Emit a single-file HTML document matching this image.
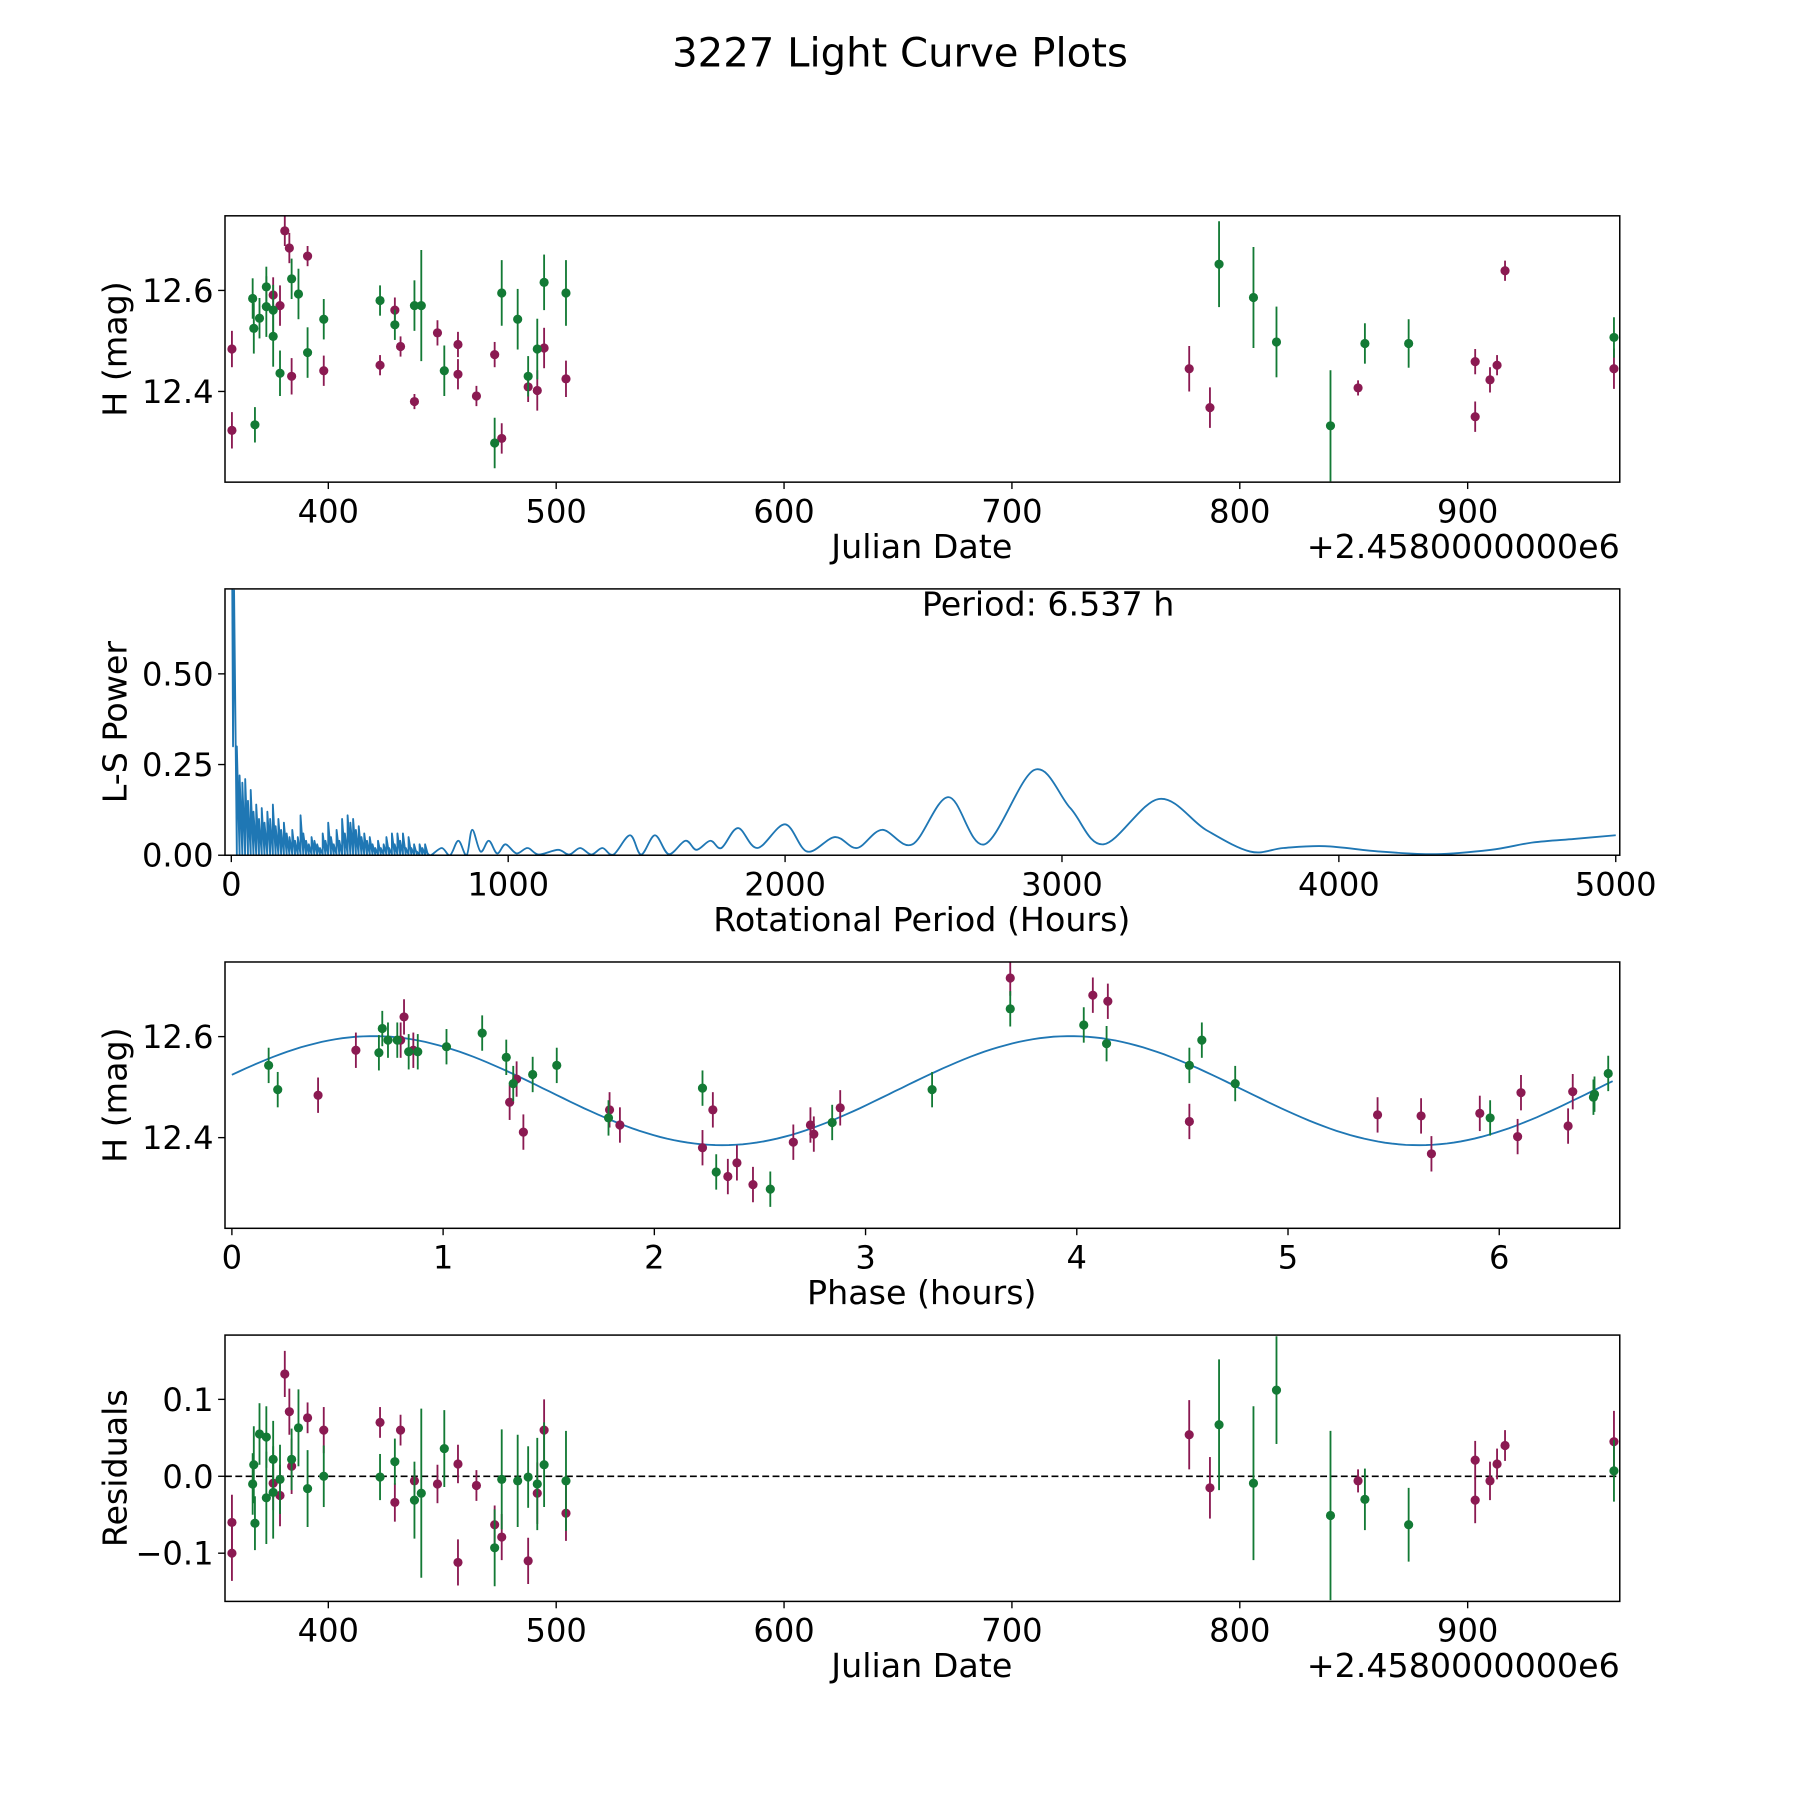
<!DOCTYPE html>
<html><head><meta charset="utf-8"><style>
html,body{margin:0;padding:0;background:#fff;}
svg{display:block;}
text{font-family:"DejaVu Sans","Liberation Sans",sans-serif;fill:#000;}
</style></head>
<body>
<svg id="fig" width="1800" height="1800" viewBox="0 0 1568 1568" xmlns="http://www.w3.org/2000/svg">
<rect width="1568" height="1568" fill="#fff"/>
<text x="784" y="58" font-size="35" text-anchor="middle">3227 Light Curve Plots</text>
</svg>
<script>
// ---- Panel 1 / 4 data (Julian date offsets) ----
const maroonJD=[357.7,357.7,375.8,378.8,380.9,382.9,383.9,390.9,398.0,422.7,429.2,431.7,437.8,447.9,456.9,456.9,465.0,473.0,476.1,487.7,491.7,494.7,504.3,777.8,786.9,851.9,903.3,903.3,909.8,912.9,916.4,964.2];
const maroonMag=[12.484,12.323,12.591,12.570,12.718,12.684,12.430,12.668,12.441,12.452,12.561,12.489,12.380,12.516,12.493,12.434,12.391,12.473,12.307,12.409,12.402,12.486,12.425,12.445,12.368,12.407,12.459,12.350,12.423,12.452,12.639,12.445];
const maroonErr=[0.036,0.036,0.035,0.04,0.03,0.03,0.036,0.02,0.03,0.02,0.025,0.02,0.015,0.025,0.025,0.03,0.02,0.025,0.03,0.03,0.04,0.04,0.036,0.045,0.04,0.015,0.025,0.03,0.025,0.02,0.02,0.04];
const maroonRes=[-0.060,-0.100,-0.009,-0.025,0.133,0.084,0.013,0.076,0.060,0.070,-0.034,0.060,-0.006,-0.010,0.016,-0.112,-0.012,-0.063,-0.079,-0.110,-0.022,0.060,-0.048,0.054,-0.015,-0.006,0.021,-0.031,-0.006,0.016,0.040,0.045];
const greenJD=[366.8,367.3,367.8,369.8,372.8,372.8,375.8,375.8,378.8,383.9,386.9,390.9,398.0,422.7,429.2,437.8,440.8,450.9,473.0,476.1,483.1,487.7,491.7,494.7,504.3,790.9,806.0,816.1,839.8,854.9,874.1,964.2];
const greenMag=[12.584,12.525,12.334,12.545,12.607,12.568,12.509,12.561,12.436,12.623,12.593,12.477,12.543,12.580,12.532,12.570,12.570,12.441,12.298,12.595,12.543,12.430,12.484,12.616,12.595,12.652,12.586,12.498,12.332,12.495,12.495,12.507];
const greenErr=[0.04,0.05,0.035,0.04,0.04,0.06,0.06,0.05,0.045,0.04,0.05,0.05,0.04,0.03,0.03,0.05,0.11,0.05,0.05,0.065,0.06,0.04,0.06,0.055,0.065,0.085,0.1,0.07,0.11,0.04,0.048,0.04];
const greenRes=[-0.010,0.015,-0.061,0.055,0.051,-0.028,-0.021,0.022,-0.004,0.022,0.063,-0.016,0.0,-0.001,0.019,-0.031,-0.022,0.036,-0.093,-0.004,-0.006,-0.001,-0.010,0.015,-0.006,0.067,-0.009,0.112,-0.051,-0.030,-0.063,0.007];
// ---- Panel 3 data (phase) ----
const maroonPhase=[0.408,0.587,0.799,0.815,0.859,1.315,1.348,1.380,1.788,1.837,2.228,2.277,2.348,2.391,2.467,2.658,2.739,2.755,2.880,3.685,4.076,4.147,4.533,5.424,5.630,5.679,5.908,6.087,6.103,6.326,6.348];
const maroonPhaseMag=[12.484,12.573,12.593,12.639,12.573,12.470,12.516,12.411,12.455,12.425,12.380,12.455,12.323,12.350,12.307,12.391,12.425,12.407,12.459,12.716,12.682,12.670,12.432,12.445,12.443,12.368,12.448,12.402,12.489,12.423,12.491];
const greenPhase=[0.174,0.217,0.696,0.712,0.739,0.783,0.837,0.880,1.016,1.185,1.299,1.332,1.424,1.538,1.783,2.228,2.293,2.549,2.842,3.315,3.685,4.033,4.141,4.533,4.592,4.750,5.957,6.446,6.451,6.516];
const greenPhaseMag=[12.543,12.495,12.568,12.616,12.593,12.593,12.570,12.570,12.580,12.607,12.559,12.507,12.525,12.543,12.439,12.498,12.332,12.298,12.430,12.495,12.655,12.623,12.586,12.543,12.593,12.507,12.439,12.480,12.486,12.527];
const fitMean=12.493, fitAmp=0.108, fitPeakPhase=0.67, fitPeriod=3.30;
// ---- Panel 2 data (periodogram) ----
const noisePeriods=[2,10,20,30,40,50,60,70,80,90,100,110,120,130,140,150,160,170,180,190,200,210,220,230,240,250,260,270,280,290,300,310,320,330,340,350,360,370,380,390,400,410,420,430,440,450,460,470,480,490,500,510,520,530,540,550,560,570,580,590,600,610,620,630,640,650,660,670,680,690,700];
const noisePower=[0.95,0.73,0.3,0.22,0.2,0.21,0.15,0.18,0.12,0.14,0.1,0.13,0.09,0.12,0.1,0.14,0.08,0.1,0.07,0.09,0.06,0.05,0.07,0.04,0.05,0.11,0.06,0.04,0.03,0.05,0.04,0.03,0.02,0.06,0.04,0.09,0.05,0.03,0.07,0.04,0.1,0.06,0.11,0.09,0.1,0.07,0.08,0.05,0.06,0.04,0.05,0.03,0.02,0.04,0.02,0.03,0.05,0.02,0.06,0.03,0.06,0.04,0.06,0.02,0.05,0.02,0.03,0.01,0.03,0.02,0.03];
const smoothPeriods=[705,720,760,790,820,850,870,900,930,960,990,1030,1070,1110,1180,1220,1260,1300,1340,1380,1440,1480,1530,1580,1640,1680,1730,1770,1830,1900,2000,2080,2180,2260,2350,2460,2590,2720,2900,3030,3150,3350,3520,3680,3800,3950,4150,4350,4550,4700,4850,5000];
const smoothPower=[0.01,0.0,0.02,0.0,0.04,0.0,0.07,0.01,0.04,0.005,0.03,0.005,0.02,0.002,0.015,0.002,0.02,0.002,0.02,0.002,0.055,0.002,0.055,0.003,0.04,0.015,0.04,0.02,0.075,0.02,0.085,0.01,0.05,0.02,0.07,0.03,0.16,0.03,0.235,0.13,0.03,0.155,0.07,0.01,0.02,0.025,0.01,0.003,0.015,0.035,0.045,0.055];
const jdTicks=[400,500,600,700,800,900];
const magTicks=[12.4,12.6];
const powTicks=[0,0.25,0.5];
const perTicks=[0,1000,2000,3000,4000,5000];
const phaseTicks=[0,1,2,3,4,5,6];
const resTicks=[-0.1,0,0.1];

const NS='http://www.w3.org/2000/svg';
const svg=document.getElementById('fig');
const MAROON='#8b1a52', GREEN='#137a35', BLUE='#1f77b4';
function mk(tag,attrs,parent){const e=document.createElementNS(NS,tag);for(const k in attrs)e.setAttribute(k,attrs[k]);(parent||svg).appendChild(e);return e;}
function lin(d0,d1,p0,p1){return v=>p0+(v-d0)*(p1-p0)/(d1-d0);}
const L=196,R=1411;
function panel(name,top,bot,xs,ys,xt,xfmt,yt,yfmt,xlabel,ylabel,offset){
  const g=mk('g',{});
  
  
  const clip=mk('clipPath',{id:name+'-clip'},g);mk('rect',{x:L,y:top,width:R-L,height:bot-top},clip);
  const plot=mk('g',{'clip-path':'url(#'+name+'-clip)'},g);
  
  
  xt.forEach(v=>{const x=xs(v);mk('line',{x1:x,x2:x,y1:bot,y2:bot+6,stroke:'#000','stroke-width':1.2},g);
    const t=mk('text',{x:x,y:bot+35,'font-size':28,'text-anchor':'middle'},g);t.textContent=xfmt(v);
    
    });
  yt.forEach(v=>{const y=ys(v);mk('line',{x1:L-6,x2:L,y1:y,y2:y,stroke:'#000','stroke-width':1.2},g);
    const t=mk('text',{x:L-10,y:y+10,'font-size':28,'text-anchor':'end'},g);t.textContent=yfmt(v);
    
    });
  const xl=mk('text',{x:803,y:bot+66,'font-size':29,'text-anchor':'middle'},g);xl.textContent=xlabel;
  
  
  const yl=mk('text',{x:0,y:0,'font-size':29,'text-anchor':'middle',transform:`translate(110,${(top+bot)/2}) rotate(-90)`},g);yl.textContent=ylabel;
  
  
  if(offset){const o=mk('text',{x:R,y:bot+66,'font-size':29,'text-anchor':'end'},g);o.textContent=offset;
    
    }
  const fr=mk('rect',{x:L,y:top,width:R-L,height:bot-top,fill:'none',stroke:'#000','stroke-width':1.3},g);
  
  
  return plot;
}
function errpts(plot,xsArr,ysArr,errs,col,xs,ys,label){
  xsArr.forEach((v,i)=>{const x=xs(v);const y=ys(ysArr[i]);const e=errs?errs[i]:0.035;
    const ln=mk('line',{x1:x,x2:x,y1:ys(ysArr[i]+e),y2:ys(ysArr[i]-e),stroke:col,'stroke-width':1.6},plot);
    
    
    const c=mk('circle',{cx:x,cy:y,r:4,fill:col},plot);
    
    });
}
const fmtMag=v=>v.toFixed(1);
const minus=s=>s.replace('-','\u2212');
// Panel 1
{const xs=lin(400,500,286,484.5),ys=lin(12.6,12.4,253,341);
 const p=panel('light-curve-panel',188,420,xs,ys,jdTicks,v=>String(v),magTicks,fmtMag,'Julian Date','H (mag)','+2.4580000000e6');
 errpts(p,maroonJD,maroonMag,maroonErr,MAROON,xs,ys,'maroon');
 errpts(p,greenJD,greenMag,greenErr,GREEN,xs,ys,'green');}
// Panel 2
{const xs=lin(0,1000,201.5,442.7),ys=lin(0,0.5,745,587);
 const p=panel('periodogram-panel',513,745,xs,ys,perTicks,v=>String(v),powTicks,v=>v.toFixed(2),'Rotational Period (Hours)','L-S Power',null);
 let d='';
 noisePeriods.forEach((per,i)=>{const x=xs(per),y=ys(noisePower[i]);
   d+=(i?'L':'M')+x.toFixed(1)+','+y.toFixed(1);
   if(i>0) d+='L'+(x+2.4).toFixed(1)+','+ys(0.002).toFixed(1);
   else d+='L'+(x+1).toFixed(1)+','+ys(0.3).toFixed(1);});
 const pts=smoothPeriods.map((per,i)=>[xs(per),ys(smoothPower[i])]);
 d+='L'+pts[0][0].toFixed(1)+','+pts[0][1].toFixed(1);
 for(let i=0;i<pts.length-1;i++){const p0=pts[Math.max(0,i-1)],p1=pts[i],p2=pts[i+1],p3=pts[Math.min(pts.length-1,i+2)];
   const c1=[p1[0]+(p2[0]-p0[0])/6,p1[1]+(p2[1]-p0[1])/6],c2=[p2[0]-(p3[0]-p1[0])/6,p2[1]-(p3[1]-p1[1])/6];
   d+=`C${c1[0].toFixed(1)},${c1[1].toFixed(1)} ${c2[0].toFixed(1)},${c2[1].toFixed(1)} ${p2[0].toFixed(1)},${p2[1].toFixed(1)}`;}
 const path=mk('path',{d:d,fill:'none',stroke:BLUE,'stroke-width':1.6,'stroke-linejoin':'round'},p);
 
 
 const t=mk('text',{x:913,y:536,'font-size':29,'text-anchor':'middle'});t.textContent='Period: 6.537 h';
 
 }
// Panel 3
{const xs=lin(0,1,202,386),ys=lin(12.6,12.4,903,991);
 const p=panel('phase-fold-panel',838,1070,xs,ys,phaseTicks,v=>String(v),magTicks,fmtMag,'Phase (hours)','H (mag)',null);
 let d='';for(let i=0;i<=200;i++){const ph=6.537*i/200;const m=fitMean+fitAmp*Math.cos(2*Math.PI*(ph-fitPeakPhase)/fitPeriod);d+=(i?'L':'M')+xs(ph).toFixed(1)+','+ys(m).toFixed(1);}
 const fit=mk('path',{d:d,fill:'none',stroke:BLUE,'stroke-width':1.6},p);
 
 
 errpts(p,maroonPhase,maroonPhaseMag,null,MAROON,xs,ys,'maroon-phase');
 errpts(p,greenPhase,greenPhaseMag,null,GREEN,xs,ys,'green-phase');}
// Panel 4
{const xs=lin(400,500,286,484.5),ys=lin(0,0.1,1286,1219);
 const p=panel('residuals-panel',1163,1395,xs,ys,jdTicks,v=>String(v),resTicks,v=>minus(v.toFixed(1)),'Julian Date','Residuals','+2.4580000000e6');
 const z=mk('line',{x1:L,x2:R,y1:ys(0),y2:ys(0),stroke:'#000','stroke-width':1.4,'stroke-dasharray':'6,3'},p);
 
 
 errpts(p,maroonJD,maroonRes,maroonErr,MAROON,xs,ys,'maroon-residual');
 errpts(p,greenJD,greenRes,greenErr,GREEN,xs,ys,'green-residual');}
</script>
</body></html>
